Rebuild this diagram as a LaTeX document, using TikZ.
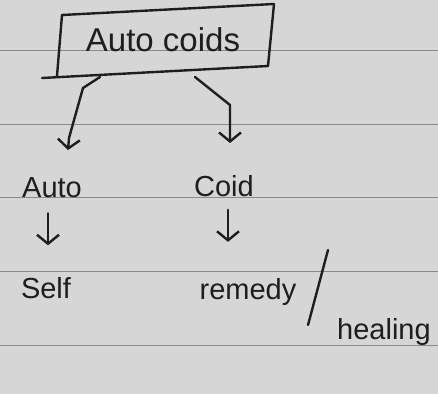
\documentclass[tikz,border=0pt]{standalone}
\usepackage{fontspec}
\setmainfont{Liberation Sans}
\usetikzlibrary{arrows.meta}
\definecolor{paper}{HTML}{D6D6D6}
\definecolor{rule}{HTML}{8A8A8A}
\definecolor{ink}{HTML}{1E1E1E}
\tikzset{
  word/.style={text=ink, inner sep=0pt, font=\fontsize{29}{29}\selectfont},
  pen/.style={draw=ink, line width=2.4pt, line cap=round, line join=round},
  tip/.style={-{Straight Barb[length=9pt,width=22pt]}},
  ruled/.style={draw=rule, line width=1pt}
}
\begin{document}
\begin{tikzpicture}[x=1pt,y=-1pt]
  % sheet and ruling
  \fill[paper] (0,0) rectangle (438,394);
  \useasboundingbox (0,0) rectangle (438,394);
  \foreach \yy in {50,124,197,271,345}
    \path[ruled] (0,\yy) -- (438,\yy);

  % title box
  \node[word, font=\fontsize{33}{33}\selectfont] (title) at (163,40) {Auto coids};
  \coordinate (tl) at (62,15);
  \coordinate (tr) at (274,4);
  \coordinate (br) at (268,66);
  \coordinate (bl) at (57,76);
  \coordinate (tail) at (42,78);
  \path[pen] (tl) -- (tr) -- (br) -- (tail);
  \path[pen] (tl) -- (bl);

  % words
  \node[word] (auto) at (52,188) {Auto};
  \node[word] (coid) at (224,186) {Coid};
  \node[word] (self) at (46,288) {Self};
  \node[word] (remedy) at (248,292) {remedy};
  \node[word] (healing) at (384,332) {healing};

  % branch arrows from the box
  \coordinate (lstart) at (100,77);
  \coordinate (lbend) at (83,88);
  \coordinate (lfoot) at (69,138);
  \coordinate (rstart) at (195,77);
  \coordinate (rbend) at (230,105);
  \path[pen, tip] (lstart) -- (lbend) -- (lfoot) -- ++(-1,12);
  \path[pen, tip] (rstart) -- (rbend) -- (230,143);

  % meaning arrows
  \path[pen, tip] (auto.south) ++(-4,15) -- ++(0,32);
  \path[pen, tip] (coid.south) ++(4,13) -- ++(0,32);

  % slash between the two meanings
  \coordinate (slashtop) at (328,250);
  \coordinate (slashbot) at (308,325);
  \path[pen] (slashtop) -- (slashbot);
\end{tikzpicture}
\end{document}
